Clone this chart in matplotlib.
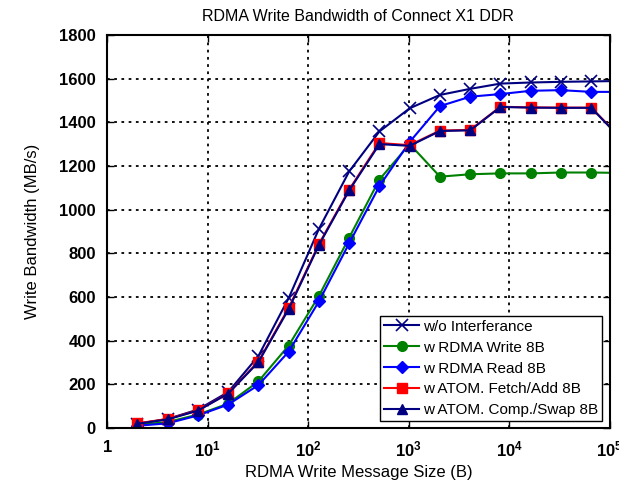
import numpy as np
import matplotlib
matplotlib.use("Agg")
import matplotlib.pyplot as plt

plt.rcParams['font.family'] = ['Liberation Sans', 'DejaVu Sans']
plt.rcParams['mathtext.fontset'] = 'custom'
plt.rcParams['mathtext.rm'] = 'Liberation Sans'
plt.rcParams['mathtext.bf'] = 'Liberation Sans:bold'

# message sizes (B)
sizes = [2, 4, 8, 16, 32, 64, 128, 256, 512, 1024, 2048, 4096, 8192,
         16384, 32768, 65536, 131072]

# bandwidth (MB/s)
bw_none = [20, 42, 85, 165, 330, 595, 912, 1175, 1358, 1464, 1525, 1553,
           1577, 1582, 1585, 1587, 1589]
bw_write = [15, 28, 62, 112, 214, 378, 605, 872, 1138, 1300, 1151, 1162,
            1166, 1166, 1170, 1170, 1168]
bw_read = [11, 22, 58, 108, 197, 350, 580, 846, 1108, 1310, 1474, 1517,
           1529, 1544, 1547, 1539, 1539]
bw_fadd = [22, 42, 81, 159, 305, 550, 842, 1092, 1305, 1295, 1362, 1365,
           1471, 1468, 1467, 1467, 1325]
bw_cswap = [20, 40, 80, 158, 302, 545, 838, 1088, 1300, 1292, 1360, 1363,
            1470, 1467, 1466, 1466, 1322]

labels = ['w/o Interferance', 'w RDMA Write 8B', 'w RDMA Read 8B',
          'w ATOM. Fetch/Add 8B', 'w ATOM. Comp./Swap 8B']

fig = plt.figure(figsize=(6.19, 4.91), dpi=100)
ax = fig.add_axes([0.173, 0.128, 0.812, 0.801])

ax.plot(sizes, bw_none, color='#000080', marker='x', markersize=9,
        markeredgewidth=1.2, lw=1.5, label=labels[0])
ax.plot(sizes, bw_write, color='#008000', marker='o', markersize=7,
        lw=1.5, label=labels[1])
ax.plot(sizes, bw_read, color='#0000ff', marker='D', markersize=6,
        lw=1.5, label=labels[2])
ax.plot(sizes, bw_fadd, color='#ff0000', marker='s', markersize=7,
        lw=1.5, label=labels[3])
ax.plot(sizes, bw_cswap, color='#000080', marker='^', markersize=7,
        lw=1.5, label=labels[4])

ax.set_xscale('log')
ax.set_xlim(1, 1e5)
ax.set_ylim(0, 1800)
xt = [1, 10, 100, 1000, 10000, 100000]
ax.set_xticks(xt)
ax.set_xticklabels([r'$\mathbf{1}$'] + [r'$\mathbf{10^{%d}}$' % k for k in range(1, 6)])
ax.xaxis.set_minor_locator(matplotlib.ticker.NullLocator())
ax.set_yticks(np.arange(0, 1801, 200))
for t in ax.get_yticklabels():
    t.set_fontweight('bold')
ax.tick_params(direction='in', top=True, right=True, labelsize=12, length=5,
               width=1, pad=8)
ax.grid(True, color='black', linestyle=(0, (1.5, 2.5)), linewidth=1.3)
for s in ax.spines.values():
    s.set_linewidth(1.5)

ax.set_title('RDMA Write Bandwidth of Connect X1 DDR', fontsize=11.5, pad=10)
ax.set_xlabel('RDMA Write Message Size (B)', fontsize=12, labelpad=4)
ax.set_ylabel('Write Bandwidth (MB/s)', fontsize=12, labelpad=14)

leg = ax.legend(loc='lower right', bbox_to_anchor=(0.985, 0.018), fontsize=11,
                fancybox=False, edgecolor='black', framealpha=1,
                handlelength=2.3, borderpad=0.25, labelspacing=0.45,
                handletextpad=0.25, borderaxespad=0.0)
leg.get_frame().set_linewidth(1.0)

fig.savefig('out.png', dpi=100)
